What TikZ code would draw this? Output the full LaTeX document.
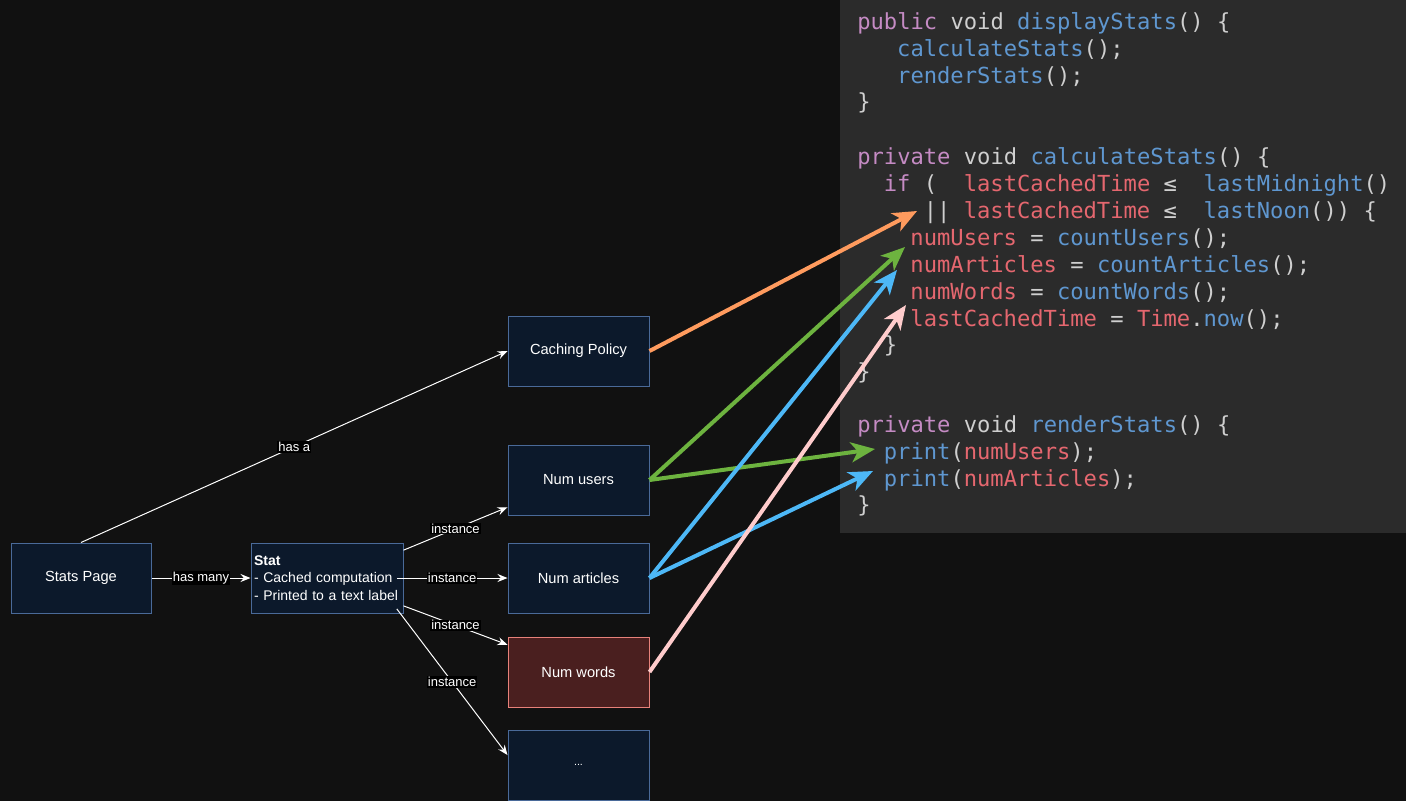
\documentclass[tikz,border=0pt]{standalone}
\usepackage{fontspec}
\setmainfont{Liberation Sans}
\newfontfamily\codefont{DejaVu Sans Mono}
\usetikzlibrary{arrows.meta}

\definecolor{bgdark}{HTML}{111111}
\definecolor{panel}{HTML}{2B2B2B}
\definecolor{boxfill}{HTML}{0C192B}
\definecolor{boxline}{HTML}{4A6A99}
\definecolor{wordsfill}{HTML}{4A1F1F}
\definecolor{wordsline}{HTML}{E8817A}
\definecolor{cachecol}{HTML}{FF9B5E}
\definecolor{userscol}{HTML}{6DB33F}
\definecolor{articlescol}{HTML}{4DB8F7}
\definecolor{wordscol}{HTML}{FFCCCC}
\definecolor{codekw}{HTML}{C58BC4}
\definecolor{codefn}{HTML}{5F97D0}
\definecolor{codevar}{HTML}{E5676F}
\definecolor{codepn}{HTML}{CFCFCF}

\newcommand{\kw}[1]{\textcolor{codekw}{#1}}
\newcommand{\fn}[1]{\textcolor{codefn}{#1}}
\newcommand{\vr}[1]{\textcolor{codevar}{#1}}
\newcommand{\pn}[1]{\textcolor{codepn}{#1}}

\begin{document}
\begin{tikzpicture}[x=0.75pt,y=-0.75pt,
  box/.style={draw=boxline,fill=boxfill,line width=0.75pt,text=white,
    minimum width=105.75pt,minimum height=52.5pt,inner sep=0pt,
    font=\fontsize{11pt}{13pt}\selectfont},
  lbl/.style={fill=black,text=white,inner sep=0.75pt,
    font=\fontsize{9.75pt}{11pt}\selectfont},
  rel/.style={draw=white,line width=0.75pt,-{Stealth[length=7.5pt,width=6pt,inset=2.5pt]}},
  link/.style={line width=3pt,-{Stealth[length=18pt,width=15pt,inset=5pt]}},
  code/.style={anchor=west,inner sep=0pt,text height=15pt,text depth=2pt,
    font=\codefont\fontsize{16.6pt}{20pt}\selectfont}]

\fill[bgdark] (0,0) rectangle (1406,801);
\useasboundingbox (0,0) rectangle (1406,801);
\fill[panel] (840,0) rectangle (1406,533);

% code listing
\node[code] (c1)  at (857,21)    {\kw{public} \pn{void} \fn{displayStats}\pn{() \{}};
\node[code] (c2)  at (896.9,48)  {\fn{calculateStats}\pn{();}};
\node[code] (c3)  at (896.9,75)  {\fn{renderStats}\pn{();}};
\node[code] (c4)  at (857,101)   {\pn{\}}};
\node[code] (c5)  at (857,156)   {\kw{private} \pn{void} \fn{calculateStats}\pn{() \{}};
\node[code] (c6)  at (883.6,183) {\kw{if} \pn{(}\ \ \vr{lastCachedTime} \pn{≤}\ \ \fn{lastMidnight}\pn{()}};
\node[code] (c7)  at (923.5,210) {\pn{||} \vr{lastCachedTime} \pn{≤}\ \ \fn{lastNoon}\pn{()) \{}};
\node[code] (c8)  at (910.2,237) {\vr{numUsers} \pn{=} \fn{countUsers}\pn{();}};
\node[code] (c9)  at (910.2,264) {\vr{numArticles} \pn{=} \fn{countArticles}\pn{();}};
\node[code] (c10) at (910.2,291) {\vr{numWords} \pn{=} \fn{countWords}\pn{();}};
\node[code] (c11) at (910.2,318) {\vr{lastCachedTime} \pn{=} \vr{Time}\pn{.}\fn{now}\pn{();}};
\node[code] (c12) at (883.6,344) {\pn{\}}};
\node[code] (c13) at (857,371)   {\pn{\}}};
\node[code] (c14) at (857,424)   {\kw{private} \pn{void} \fn{renderStats}\pn{() \{}};
\node[code] (c15) at (883.6,451) {\fn{print}\pn{(}\vr{numUsers}\pn{);}};
\node[code] (c16) at (883.6,478) {\fn{print}\pn{(}\vr{numArticles}\pn{);}};
\node[code] (c17) at (857,504)   {\pn{\}}};

% diagram
\node[box,minimum width=105pt] (stats) at (81,578) {Stats Page};
\node[box,minimum width=0pt,text width=109.5pt,inner xsep=2.25pt,align=left,
  font=\fontsize{10.5pt}{13pt}\selectfont] (stat) at (327,578)
  {\textbf{Stat}\\- Cached computation\\- Printed to a text label};
\node[box] (caching)  at (578.5,351) {Caching Policy};
\node[box] (users)    at (578.5,480) {Num users};
\node[box] (articles) at (578.5,578) {Num articles};
\node[box,draw=wordsline,fill=wordsfill] (words) at (578.5,672) {Num words};
\node[box,font=\fontsize{8pt}{9pt}\selectfont] (dots) at (578.5,765) {...};

\draw[rel] (stats.north) -- node[lbl] {has a} (caching.west);
\draw[rel] (stats.east) -- node[lbl] {has many} (stat.west);
\draw[rel] (stat.20) -- node[lbl] {instance} (users.201);
\draw[rel] ([xshift=-5pt]stat.east) -- node[lbl] {instance} (articles.west);
\draw[rel] (stat.-20) -- node[lbl] {instance} (words.159);
\draw[rel] ([xshift=-5pt]stat.-22) -- node[lbl] {instance} (dots.172);

% links into the code
\coordinate (tCache)     at (917,211);
\coordinate (tUsersCalc) at (905,247);
\coordinate (tUsersShow) at (875,449);
\coordinate (tArtCalc)   at (897,270);
\coordinate (tArtShow)   at (873,471);
\coordinate (tWords)     at (906,305);

\draw[link,cachecol] (caching.east) -- (tCache);
\draw[link,userscol] (users.east) -- (tUsersCalc);
\draw[link,userscol] (users.east) -- (tUsersShow);
\draw[link,articlescol] (articles.east) -- (tArtCalc);
\draw[link,articlescol] (articles.east) -- (tArtShow);
\draw[link,wordscol] (words.east) -- (tWords);
\end{tikzpicture}
\end{document}
